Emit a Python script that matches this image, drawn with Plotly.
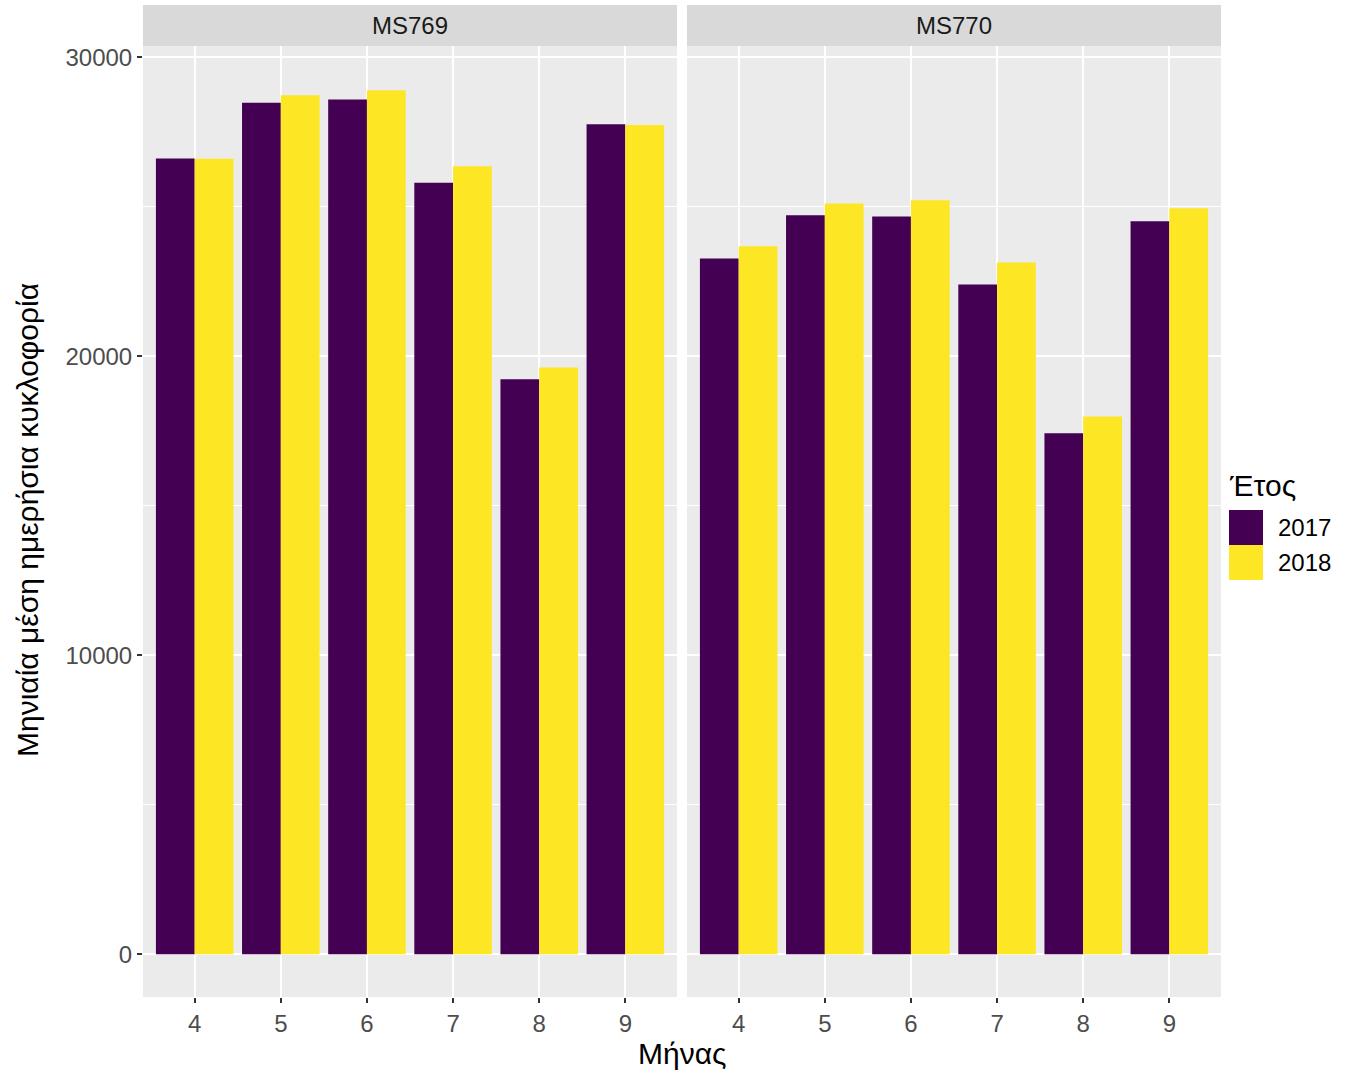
import plotly.graph_objects as go

months = ["4", "5", "6", "7", "8", "9"]
stations = ["MS769", "MS770"]
years = ["2017", "2018"]
ms769_2017 = [26620, 28480, 28590, 25810, 19230, 27760]
ms769_2018 = [26610, 28730, 28900, 26360, 19630, 27740]
ms770_2017 = [23270, 24720, 24680, 22400, 17430, 24520]
ms770_2018 = [23680, 25110, 25220, 23140, 17990, 24950]
colors = {"2017": "#440154", "2018": "#FDE725"}

values = {
    ("MS769", "2017"): ms769_2017,
    ("MS769", "2018"): ms769_2018,
    ("MS770", "2017"): ms770_2017,
    ("MS770", "2018"): ms770_2018,
}

FONT = "Liberation Sans, Arial, sans-serif"
W, H = 1366, 1073
L, R, T, B = 143, 145, 46, 76
PW, PH = W - L - R, H - T - B


def px(xp):
    return (xp - L) / PW


def py(yp):
    return (H - B - yp) / PH


fig = go.Figure()

axis_ids = {"MS769": ("x", "y"), "MS770": ("x2", "y2")}
for si, st in enumerate(stations):
    xa, ya = axis_ids[st]
    for yr in years:
        fig.add_trace(go.Bar(
            x=months, y=values[(st, yr)], name=yr,
            marker=dict(color=colors[yr], line=dict(width=0)),
            legendgroup=yr, showlegend=False,
            xaxis=xa, yaxis=ya,
        ))

gap = 10 / PW
half = (1 - gap) / 2
xcommon = dict(
    type="category", range=[-0.6, 5.6], showgrid=True, gridcolor="white", gridwidth=2,
    ticks="outside", ticklen=5, tickwidth=1.5, tickcolor="#333333",
    tickfont=dict(family=FONT, size=24, color="#4D4D4D"),
    showline=False, zeroline=False, fixedrange=True,
)
ycommon = dict(
    range=[-1430, 30380], tickvals=[0, 10000, 20000, 30000], tickformat="d",
    showgrid=True, gridcolor="white", gridwidth=2,
    minor=dict(tickvals=[5000, 15000, 25000], showgrid=True, gridcolor="white", gridwidth=1),
    zeroline=False, showline=False,
)
fig.update_layout(
    xaxis=dict(domain=[0, half], **xcommon),
    xaxis2=dict(domain=[half + gap, 1], **xcommon),
    yaxis=dict(anchor="x", ticks="outside", ticklen=5, tickwidth=1.5, tickcolor="#333333",
               tickfont=dict(family=FONT, size=24, color="#4D4D4D"), **ycommon),
    yaxis2=dict(anchor="x2", matches="y", showticklabels=False, ticks="", **ycommon),
    barmode="group", bargap=0.1, bargroupgap=0,
    plot_bgcolor="#EBEBEB", paper_bgcolor="white",
    width=W, height=H,
    margin=dict(l=L, r=R, t=T, b=B),
    font=dict(family=FONT, color="black"),
    showlegend=False,
)

# facet strips
strip_h = 41 / PH
doms = [(0, half), (half + gap, 1)]
for st, (x0, x1) in zip(stations, doms):
    fig.add_shape(type="rect", xref="paper", yref="paper", x0=x0, x1=x1, y0=1, y1=1 + strip_h,
                  fillcolor="#D9D9D9", line=dict(width=0), layer="below")
    fig.add_annotation(text=st, xref="paper", yref="paper", x=(x0 + x1) / 2, y=1 + strip_h / 2,
                       showarrow=False, font=dict(family=FONT, size=24, color="#1A1A1A"),
                       xanchor="center", yanchor="middle")

# legend (ggplot-style keys)
fig.add_annotation(text="Έτος", xref="paper", yref="paper", x=px(1227), y=py(485),
                   showarrow=False, font=dict(family=FONT, size=30, color="black"),
                   xanchor="left", yanchor="middle")
for i, yr in enumerate(years):
    top = 510 + 35 * i
    fig.add_shape(type="rect", xref="paper", yref="paper",
                  x0=px(1229), x1=px(1263), y0=py(top + 35), y1=py(top),
                  fillcolor=colors[yr], line=dict(width=0))
    fig.add_annotation(text=yr, xref="paper", yref="paper", x=px(1276), y=py(top + 17.5),
                       showarrow=False, font=dict(family=FONT, size=24, color="black"),
                       xanchor="left", yanchor="middle")

# axis titles
fig.add_annotation(text="Μήνας", xref="paper", yref="paper", x=px(682), y=py(1053),
                   showarrow=False, font=dict(family=FONT, size=30, color="black"),
                   xanchor="center", yanchor="middle")
fig.add_annotation(text="Μηνιαία μέση ημερήσια κυκλοφορία", xref="paper", yref="paper",
                   x=px(27), y=py(520), textangle=-90, showarrow=False,
                   font=dict(family=FONT, size=30, color="black"),
                   xanchor="center", yanchor="middle")

fig.write_html("out.html", config={"displayModeBar": False},
               post_script="document.body.style.margin='0';")
